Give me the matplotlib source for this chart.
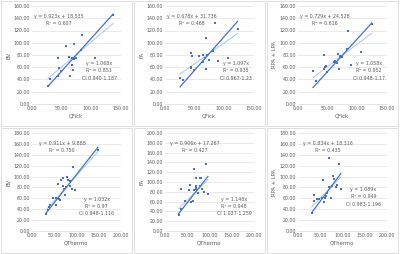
import matplotlib
matplotlib.use("Agg")
import matplotlib.pyplot as plt
from matplotlib.patches import Rectangle
import numpy as np

# x/y values
qfick_bv_x = [27, 31, 44, 44, 46, 49, 58, 63, 64, 67, 68, 70, 71, 72, 74, 83, 85, 106, 137.5]
qfick_bv_y = [30, 40, 46, 75, 58, 54, 94, 76, 45, 63, 75, 55, 98, 74, 75, 88, 113, 75, 146]

qfick_fa_x = [25.5, 30, 44, 46, 44, 44, 49, 57, 64, 64, 67, 70, 70, 72, 74, 81, 85, 89, 106, 123]
qfick_fa_y = [42, 38.5, 83, 79, 58.6, 61, 55, 78, 80, 69, 75, 107, 57, 80, 72, 87, 132, 70, 75, 122]

qfick_pa_x = [25.5, 30, 44, 44, 46, 47, 49, 61, 63, 64, 66, 68, 70, 71, 72, 74, 83, 85, 89, 106, 125]
qfick_pa_y = [54, 38, 80, 57, 60, 62, 52, 69, 71, 69, 67, 81, 57, 79, 76, 77.5, 89.5, 119, 63, 85, 131]

qthermo_bv_x = [32, 36, 38.5, 40, 47.5, 55, 55, 61, 59, 64, 69, 70, 66.5, 72, 74, 76, 78, 81.5, 85, 87, 91, 93, 97, 149]
qthermo_bv_y = [31, 39, 43.5, 47, 60.5, 60, 47, 58.6, 85.7, 57, 82, 98, 93, 78, 66.6, 80, 100, 94, 82, 92, 78, 118, 75, 148]

qthermo_fa_x = [31, 36, 36, 46, 53.6, 56.6, 59, 62.6, 66, 66, 69, 69, 70, 70, 74, 78, 78, 81.5, 84, 89, 93, 97]
qthermo_fa_y = [32, 45, 85, 62, 83, 94, 60, 61, 127, 84, 88, 109, 85, 92, 77, 92, 109, 109, 86, 79, 136, 76]

qthermo_pa_x = [31, 36, 36, 44, 47.5, 53.6, 56.6, 59, 61, 64, 66.5, 69, 69, 70, 74, 76, 78, 81.5, 85, 89, 93, 97]
qthermo_pa_y = [33, 67, 56, 59, 58, 61, 93, 54, 61, 64, 70, 135, 80, 81, 61, 83, 101, 95, 80, 84.5, 123, 78]

# trendlines: slope through origin, and slope / intercept of the free fit
origin_slopes = [1.068, 1.097, 1.058, 1.032, 1.148, 1.089]
fit_slopes = [0.81, 0.678, 0.729, 0.911, 0.906, 0.834]
fit_intercepts = [20.0, 31.736, 24.528, 9.888, 17.267, 18.316]

fit_labels = ["y = 0.923x + 18.535\nR² = 0.607", "y = 0.678x + 31.736\nR² = 0.468",
              "y = 0.729x + 24.528\nR² = 0.616", "y = 0.911x + 9.888\nR² = 0.750",
              "y = 0.906x + 17.267\nR² = 0.427", "y = 0.834x + 18.316\nR² = 0.435"]
origin_labels = ["y = 1.068x\nR² = 0.851\nCI 0.940-1.187", "y = 1.097x\nR² = 0.935\nCI 0.967-1.23",
                 "y = 1.058x\nR² = 0.952\nCI 0.948-1.17", "y = 1.032x\nR² = 0.97\nCI 0.948-1.116",
                 "y = 1.148x\nR² = 0.948\nCI 1.037-1.259", "y = 1.089x\nR² = 0.949\nCI 0.983-1.196"]

xs = [qfick_bv_x, qfick_fa_x, qfick_pa_x, qthermo_bv_x, qthermo_fa_x, qthermo_pa_x]
ys = [qfick_bv_y, qfick_fa_y, qfick_pa_y, qthermo_bv_y, qthermo_fa_y, qthermo_pa_y]
xlabels = ["QFick", "QFick", "QFick", "QThermo", "QThermo", "QThermo"]
ylabels = ["BV", "FA", "RPA + LPA", "BV", "FA", "RPA + LPA"]
xmaxes = [150, 150, 150, 200, 200, 200]
ymaxes = [160, 160, 160, 180, 200, 180]

# where the text blocks sit (axes fraction)
fit_pos = [(0.30, 0.86), (0.30, 0.86), (0.30, 0.86), (0.34, 0.86), (0.34, 0.86), (0.34, 0.86)]
origin_pos = [(0.76, 0.34), (0.80, 0.34), (0.80, 0.34), (0.73, 0.25), (0.78, 0.25), (0.74, 0.35)]

dark = "#4472C4"
light = "#A9C8EA"
grid = "#D9D9D9"
txt = "#595959"

fig = plt.figure(figsize=(4.0, 2.54), dpi=100)
W, H = 400.0, 254.0

for i in range(6):
    col = i % 3
    row = i // 3
    px0 = col * 133
    py0 = row * 127
    # panel border
    fig.patches.append(Rectangle((px0 / W + 0.002, 1 - (py0 + 126) / H), 131 / W, 125 / H,
                                 transform=fig.transFigure, fill=False, ec=grid, lw=0.6))
    left = (px0 + 32) / W
    top, bot = py0 + 6, py0 + 104
    ax = fig.add_axes([left, 1 - bot / H, 88.5 / W, (bot - top) / H])

    x = np.array(xs[i])
    y = np.array(ys[i])
    xr = np.array([x.min(), x.max()])
    ax.plot(xr, fit_slopes[i] * xr + fit_intercepts[i], color=light, lw=0.7, zorder=2)
    ax.plot(xr, origin_slopes[i] * xr, color=dark, lw=0.9, zorder=3)
    ax.scatter(x, y, s=2.2, marker="s", color=dark, zorder=4, linewidths=0)

    ax.set_xlim(0, xmaxes[i])
    ax.set_ylim(0, ymaxes[i])
    ax.set_xticks(np.arange(0, xmaxes[i] + 1, 50))
    ax.set_yticks(np.arange(0, ymaxes[i] + 1, 20))
    ax.set_xticklabels(["%.2f" % v for v in ax.get_xticks()])
    ax.set_yticklabels(["%.2f" % v for v in ax.get_yticks()])
    ax.tick_params(labelsize=3.4, colors=txt, length=0, pad=1.5)
    ax.yaxis.grid(True, color=grid, lw=0.4)
    ax.set_axisbelow(True)
    for s in ax.spines.values():
        s.set_visible(False)
    ax.spines["bottom"].set_visible(True)
    ax.spines["bottom"].set_color(grid)
    ax.spines["bottom"].set_linewidth(0.5)

    ax.set_xlabel(xlabels[i], fontsize=3.8, color=txt, labelpad=1.5)
    ax.set_ylabel(ylabels[i], fontsize=3.8, color=txt, labelpad=1.5)

    ax.text(fit_pos[i][0], fit_pos[i][1], fit_labels[i], transform=ax.transAxes,
            fontsize=3.4, color=txt, ha="center", va="center", multialignment="center",
            linespacing=1.6)
    ax.text(origin_pos[i][0], origin_pos[i][1], origin_labels[i], transform=ax.transAxes,
            fontsize=3.4, color=txt, ha="center", va="center", multialignment="center",
            linespacing=1.6)

fig.savefig("out.png", dpi=100)
